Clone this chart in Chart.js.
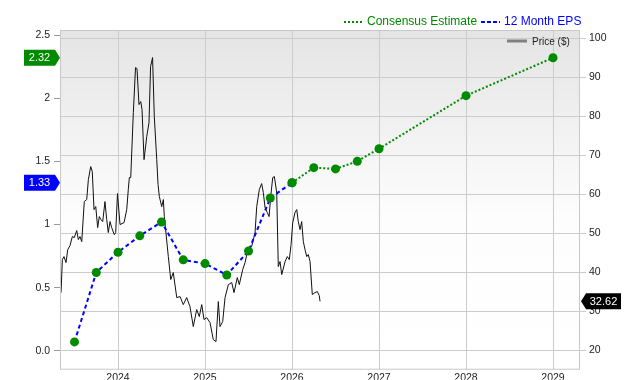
<!DOCTYPE html>
<html>
<head>
<meta charset="utf-8">
<script src="https://cdn.jsdelivr.net/npm/chart.js@4.4.1/dist/chart.umd.min.js"></script>
<style>
  html, body { margin: 0; padding: 0; background: #fff; }
</style>
</head>
<body>
<canvas id="epsChart" width="640" height="380"></canvas>
<script>
// 12 month EPS (quarterly, trailing)
const epsYears = [2023.5, 2023.75, 2024, 2024.25, 2024.5, 2024.75, 2025, 2025.25, 2025.5, 2025.75, 2026];
const epsValues = [0.07, 0.62, 0.78, 0.91, 1.02, 0.72, 0.69, 0.60, 0.79, 1.21, 1.33];

// consensus estimates
const estYears = [2026, 2026.25, 2026.5, 2026.75, 2027, 2028, 2029];
const estValues = [1.33, 1.45, 1.44, 1.50, 1.60, 2.02, 2.32];

// share price ($)
const priceYears = [2023.345, 2023.36, 2023.379, 2023.402, 2023.422, 2023.448, 2023.475, 2023.497, 2023.525, 2023.544,
    2023.563, 2023.583, 2023.612, 2023.64, 2023.659, 2023.686, 2023.704, 2023.724, 2023.744, 2023.766,
    2023.785, 2023.804, 2023.824, 2023.85, 2023.87, 2023.888, 2023.908, 2023.927, 2023.957, 2023.973,
    2023.994, 2024.023, 2024.069, 2024.1, 2024.118, 2024.13, 2024.146, 2024.176, 2024.201, 2024.218,
    2024.241, 2024.261, 2024.276, 2024.299, 2024.33, 2024.356, 2024.374, 2024.397, 2024.417, 2024.445,
    2024.46, 2024.475, 2024.502, 2024.521, 2024.532, 2024.578, 2024.606, 2024.635, 2024.675, 2024.713,
    2024.75, 2024.789, 2024.827, 2024.865, 2024.904, 2024.934, 2024.962, 2024.988, 2025.019, 2025.057,
    2025.095, 2025.126, 2025.153, 2025.172, 2025.203, 2025.23, 2025.268, 2025.307, 2025.333, 2025.371,
    2025.394, 2025.433, 2025.46, 2025.497, 2025.536, 2025.575, 2025.594, 2025.624, 2025.651, 2025.67,
    2025.69, 2025.716, 2025.736, 2025.755, 2025.778, 2025.797, 2025.824, 2025.842, 2025.862, 2025.882,
    2025.92, 2025.946, 2025.969, 2025.989, 2026.008, 2026.034, 2026.054, 2026.072, 2026.092, 2026.111,
    2026.13, 2026.149, 2026.169, 2026.187, 2026.207, 2026.233, 2026.264, 2026.291, 2026.313, 2026.322];
const priceValues = [34.87, 43.33, 44.10, 42.56, 45.90, 46.92, 49.23, 48.97, 50.77, 48.46,
    49.23, 47.95, 58.21, 58.72, 63.85, 67.18, 65.90, 56.15, 56.92, 51.54,
    54.36, 53.59, 53.08, 58.21, 53.59, 50.26, 53.08, 51.54, 49.74, 50.26,
    60.26, 52.31, 52.82, 56.15, 61.28, 64.36, 64.36, 81.03, 92.56, 92.31,
    83.08, 83.85, 81.79, 68.97, 74.87, 78.46, 92.82, 95.13, 80.00, 68.97,
    62.56, 59.49, 56.92, 58.72, 54.36, 44.10, 38.21, 40.00, 33.59, 33.85,
    31.79, 33.59, 31.28, 26.15, 30.51, 28.72, 31.79, 27.95, 28.46, 27.18,
    22.82, 22.31, 32.56, 26.15, 27.44, 33.59, 36.92, 37.44, 34.87, 38.72,
    36.92, 40.77, 42.56, 46.41, 46.67, 50.26, 56.92, 61.28, 62.82, 60.51,
    56.67, 55.38, 54.36, 59.49, 64.36, 64.62, 60.51, 41.54, 42.82, 39.49,
    42.82, 44.10, 43.33, 47.18, 52.82, 55.38, 56.15, 53.08, 51.03, 53.08,
    47.95, 45.90, 44.10, 44.62, 42.82, 34.36, 34.87, 35.13, 34.10, 32.62];

const yearTicks = [2024, 2025, 2026, 2027, 2028, 2029];
const epsTicks = [0, 0.5, 1, 1.5, 2, 2.5];
const priceTicks = [20, 30, 40, 50, 60, 70, 80, 90, 100];

const GREEN = '#008a00';
const BLUE = '#0000ff';
const FONT = '"Liberation Sans", Arial, sans-serif';

const toPoints = function (xs, ys) {
    let pts = [];
    const n = Math.min(xs.length, ys.length);
    for (let i = 0; i < n; i++) {
        pts.push({ x: xs[i], y: ys[i] });
    }
    return pts;
};

const drawTag = function (ctx, text, color, tipX, y, side, w) {
    const h = 16, arrow = 5;
    ctx.save();
    ctx.fillStyle = color;
    ctx.beginPath();
    if (side === 'left') {
        const x2 = tipX - arrow, x1 = x2 - w;
        ctx.moveTo(x1, y - h / 2);
        ctx.lineTo(x2, y - h / 2);
        ctx.lineTo(tipX, y);
        ctx.lineTo(x2, y + h / 2);
        ctx.lineTo(x1, y + h / 2);
        ctx.closePath();
        ctx.fill();
        ctx.fillStyle = '#fff';
        ctx.font = '11px ' + FONT;
        ctx.textAlign = 'center';
        ctx.textBaseline = 'middle';
        ctx.fillText(text, (x1 + x2) / 2, y + 0.5);
    } else {
        const x1 = tipX + arrow, x2 = x1 + w;
        ctx.moveTo(tipX, y);
        ctx.lineTo(x1, y - h / 2);
        ctx.lineTo(x2, y - h / 2);
        ctx.lineTo(x2, y + h / 2);
        ctx.lineTo(x1, y + h / 2);
        ctx.closePath();
        ctx.fill();
        ctx.fillStyle = '#fff';
        ctx.font = '11px ' + FONT;
        ctx.textAlign = 'center';
        ctx.textBaseline = 'middle';
        ctx.fillText(text, (x1 + x2) / 2, y + 0.5);
    }
    ctx.restore();
};

const legendLine = function (ctx, x1, x2, y, color, width, dash) {
    ctx.save();
    ctx.strokeStyle = color;
    ctx.lineWidth = width;
    ctx.setLineDash(dash);
    ctx.beginPath();
    ctx.moveTo(x1, y);
    ctx.lineTo(x2, y);
    ctx.stroke();
    ctx.restore();
};

const decorPlugin = {
    id: 'decor',
    beforeDraw(chart) {
        const ctx = chart.ctx;
        const a = chart.chartArea;
        const g = ctx.createLinearGradient(0, a.top, 0, a.bottom);
        g.addColorStop(0, '#e4e4e4');
        g.addColorStop(0.55, '#fdfdfd');
        g.addColorStop(1, '#ffffff');
        ctx.save();
        ctx.fillStyle = g;
        ctx.fillRect(a.left, a.top, a.right - a.left, a.bottom - a.top);
        ctx.restore();
    },
    afterDraw(chart) {
        const ctx = chart.ctx;
        const a = chart.chartArea;
        ctx.save();
        ctx.strokeStyle = '#c8c8c8';
        ctx.lineWidth = 1;
        ctx.strokeRect(a.left + 0.5, a.top + 0.5, a.right - a.left - 1, a.bottom - a.top - 1);
        ctx.restore();

        // value tags
        const yE = chart.scales.yEps;
        const yP = chart.scales.yPrice;
        const lastEst = estValues[estValues.length - 1];
        const lastEps = epsValues[epsValues.length - 1];
        const lastPrice = priceValues[priceValues.length - 1];
        drawTag(ctx, lastEst.toFixed(2), GREEN, a.left, yE.getPixelForValue(lastEst), 'left', 31);
        drawTag(ctx, lastEps.toFixed(2), BLUE, a.left, yE.getPixelForValue(lastEps), 'left', 31);
        drawTag(ctx, lastPrice.toFixed(2), '#000', a.right + 1, yP.getPixelForValue(lastPrice), 'right', 35);

        // legend on top
        ctx.save();
        ctx.font = '12px ' + FONT;
        ctx.textBaseline = 'middle';
        ctx.textAlign = 'left';
        legendLine(ctx, 344, 362, 22, GREEN, 2, [2, 2]);
        ctx.fillStyle = GREEN;
        ctx.fillText('Consensus Estimate', 367, 22);
        legendLine(ctx, 481, 500, 22, BLUE, 2, [4, 2]);
        ctx.fillStyle = BLUE;
        ctx.fillText('12 Month EPS', 504, 22);
        // price legend inside plot
        legendLine(ctx, 507, 527, 41, '#808080', 3, []);
        ctx.font = '10px ' + FONT;
        ctx.fillStyle = '#222';
        ctx.fillText('Price ($)', 532, 42);
        ctx.restore();
    }
};

const config = {
    type: 'line',
    data: {
        datasets: [{
            label: '12 Month EPS',
            data: toPoints(epsYears, epsValues),
            yAxisID: 'yEps',
            borderColor: BLUE,
            borderWidth: 2,
            borderDash: [4, 3],
            pointRadius: 4.5,
            pointBackgroundColor: GREEN,
            pointBorderColor: GREEN,
            pointBorderWidth: 0,
            tension: 0
        }, {
            label: 'Consensus Estimate',
            data: toPoints(estYears, estValues),
            yAxisID: 'yEps',
            borderColor: GREEN,
            borderWidth: 2,
            borderDash: [2, 2],
            pointRadius: 4.5,
            pointBackgroundColor: GREEN,
            pointBorderColor: GREEN,
            pointBorderWidth: 0,
            tension: 0
        }, {
            label: 'Price ($)',
            data: toPoints(priceYears, priceValues),
            yAxisID: 'yPrice',
            borderColor: '#111',
            borderWidth: 1,
            pointRadius: 0,
            tension: 0
        }]
    },
    options: {
        responsive: false,
        animation: false,
        layout: { padding: { top: 30, left: 0, right: 0, bottom: 0 } },
        plugins: {
            legend: { display: false },
            tooltip: { enabled: false }
        },
        scales: {
            x: {
                type: 'linear',
                min: 2023.333,
                max: 2029.31,
                afterBuildTicks: function (scale) {
                    scale.ticks = yearTicks.map(v => ({ value: v }));
                },
                afterFit: function (scale) { scale.height = 10; },
                ticks: {
                    padding: 2,
                    color: '#222',
                    font: { family: FONT, size: 10.5 },
                    maxRotation: 0,
                    callback: v => String(v)
                },
                grid: { color: '#cccccc', drawTicks: false },
                border: { display: false }
            },
            yEps: {
                type: 'linear',
                position: 'left',
                min: -0.15,
                max: 2.54,
                afterBuildTicks: function (scale) {
                    scale.ticks = epsTicks.map(v => ({ value: v }));
                },
                afterFit: function (scale) { scale.width = 60; },
                ticks: {
                    padding: 4,
                    color: '#222',
                    font: { family: FONT, size: 10.5 },
                    callback: v => (v === 0 ? '0.0' : String(v))
                },
                grid: { drawOnChartArea: false, color: '#999', tickLength: 6 },
                border: { display: false }
            },
            yPrice: {
                type: 'linear',
                position: 'right',
                min: 15.1,
                max: 102.2,
                afterBuildTicks: function (scale) {
                    scale.ticks = priceTicks.map(v => ({ value: v }));
                },
                afterFit: function (scale) { scale.width = 60; },
                ticks: {
                    padding: 3,
                    color: '#222',
                    font: { family: FONT, size: 10.5 },
                    callback: v => String(v)
                },
                grid: { color: '#cccccc', tickLength: 6 },
                border: { display: false }
            }
        }
    },
    plugins: [decorPlugin]
};

window.onload = function () {
    const epsChart = new Chart(document.getElementById('epsChart'), config);
};
</script>
</body>
</html>
